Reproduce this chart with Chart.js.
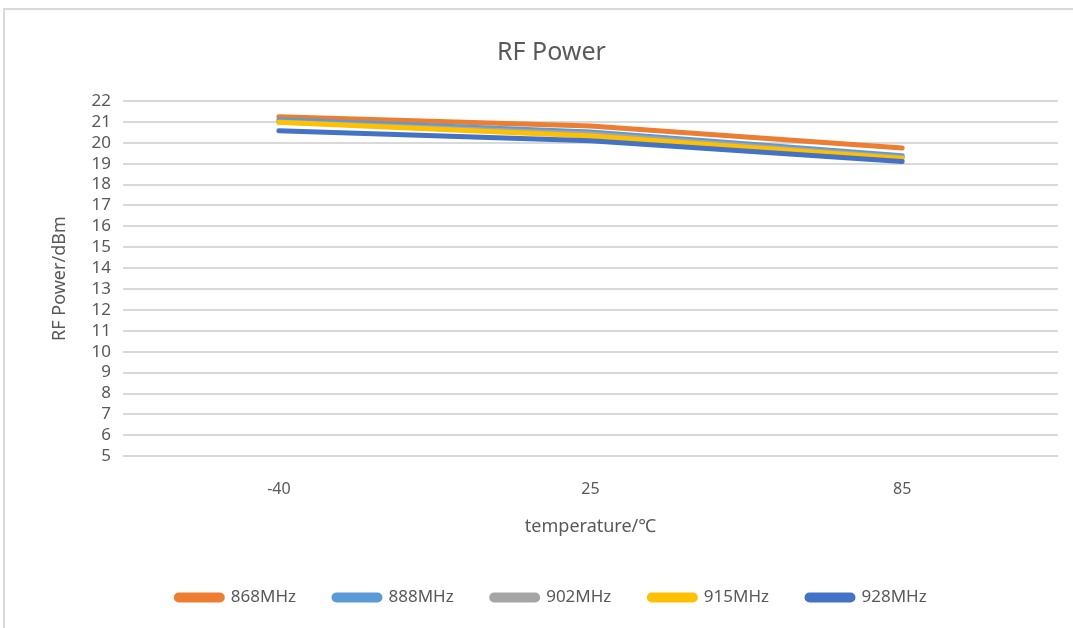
<!DOCTYPE html>
<html>
<head>
<meta charset="utf-8">
<script src="https://cdn.jsdelivr.net/npm/chart.js@4/dist/chart.umd.min.js"></script>
<style>
  html, body { margin: 0; padding: 0; background: #fff; }
  #frame { position: absolute; left: 3px; top: 8px; width: 1090px; height: 640px; border: 2px solid #D9D9D9; box-sizing: border-box; }
  #wrap { position: absolute; left: 0; top: 0; width: 1073px; height: 628px; }
</style>
</head>
<body>
<div id="frame"></div>
<div id="wrap"><canvas id="rfChart"></canvas></div>
<script>
// categorias de temperatura y potencia (dBm)
const temps = ['-40', '25', '85'];
const p868 = [21.25, 20.8, 19.75];
const p888 = [21.1, 20.52, 19.38];
const p902 = [21.0, 20.42, 19.3];
const p915 = [20.98, 20.33, 19.25];
const p928 = [20.58, 20.1, 19.1];
const seriesNames = ['868MHz', '888MHz', '902MHz', '915MHz', '928MHz'];
const seriesColors = ['#ED7D31', '#5B9BD5', '#A5A5A5', '#FFC000', '#4472C4'];
const yMin = 5, yMax = 22;

const font = "'Noto Sans', sans-serif";
const allData = [p868, p888, p902, p915, p928];

const ctx = document.getElementById('rfChart').getContext('2d');
const rfChart = new Chart(ctx, {
    type: 'line',
    data: {
        labels: temps,
        datasets: allData.map((d, i) => ({
            label: seriesNames[i],
            data: d,
            borderColor: seriesColors[i],
            backgroundColor: seriesColors[i],
            borderWidth: 5,
            borderCapStyle: 'round',
            pointRadius: 0,
            tension: 0,
            order: allData.length - i // las ultimas series encima
        }))
    },
    options: {
        responsive: true,
        maintainAspectRatio: false,
        animation: false,
        layout: { padding: { left: 45, right: 15, top: 38, bottom: 12 } },
        plugins: {
            title: {
                display: true,
                text: 'RF Power',
                color: '#595959',
                font: { family: font, size: 25, weight: 'normal' },
                padding: { top: 0, bottom: 33 }
            },
            legend: {
                position: 'bottom',
                labels: {
                    color: '#595959',
                    font: { family: font, size: 17 },
                    boxWidth: 46,
                    boxHeight: 5,
                    useBorderRadius: true,
                    borderRadius: 2.5,
                    padding: 38,
                    sort: (a, b) => a.datasetIndex - b.datasetIndex
                }
            },
            tooltip: { enabled: false }
        },
        scales: {
            x: {
                offset: true,
                grid: { display: false },
                border: { display: false },
                ticks: { color: '#595959', font: { family: font, size: 16 }, padding: 16 },
                title: {
                    display: true,
                    text: 'temperature/℃',
                    color: '#595959',
                    font: { family: font, size: 18 },
                    padding: { top: 1, bottom: 13 }
                }
            },
            y: {
                min: yMin,
                max: yMax,
                ticks: { stepSize: 1, autoSkip: false, color: '#595959', font: { family: font, size: 17 }, padding: 12 },
                grid: { color: '#D9D9D9', lineWidth: 2, drawTicks: false },
                border: { display: false },
                title: {
                    display: true,
                    text: 'RF Power/dBm',
                    color: '#595959',
                    font: { family: font, size: 18 },
                    padding: { bottom: 9 }
                }
            }
        }
    }
});
</script>
</body>
</html>
